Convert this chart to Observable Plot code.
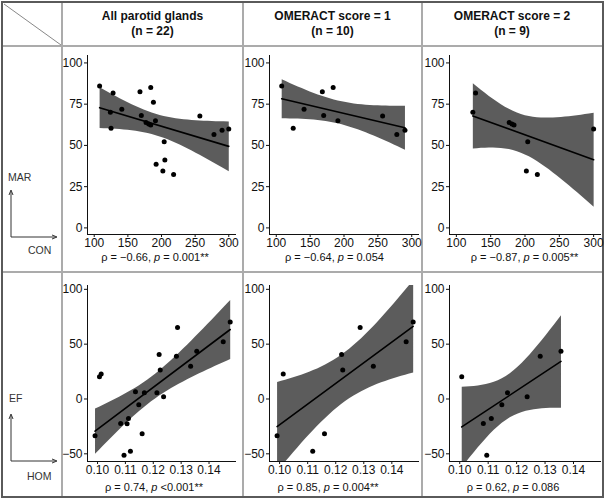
<!DOCTYPE html>
<html>
<head>
<meta charset="utf-8">
<script src="https://cdn.jsdelivr.net/npm/d3@7"></script>
<script src="https://cdn.jsdelivr.net/npm/@observablehq/plot@0.6"></script>
<style>
  html, body { margin: 0; padding: 0; background: #fff; }
  #wrap { position: relative; width: 605px; height: 499px; overflow: hidden; font-family: "Liberation Sans", Arial, sans-serif; color: #222; }
  .abs { position: absolute; }
  .hdr { font-weight: bold; font-size: 12px; line-height: 15px; text-align: center; color: #111; }
  .rho { font-size: 11px; line-height: 11px; white-space: nowrap; transform: translateX(-50%); color: #111; }
  .side { font-size: 10.5px; color: #333; }
  .vl { background: #ababab; width: 2px; }
  .hl { background: #ababab; height: 2px; }
</style>
</head>
<body>
<div id="wrap"></div>
<script>
// ---------- data ----------
const columnTitles = ["All parotid glands", "OMERACT score = 1", "OMERACT score = 2"];
const columnN = ["(n = 22)", "(n = 10)", "(n = 9)"];
const groupKeys = ["all", "1", "2"];

// top row: CON (x) vs MAR (y), OMERACT group of each gland
const conValues = [108, 128, 124, 125, 141, 168, 170, 177, 184, 184, 188, 191, 192, 202, 204, 205, 218, 257, 278, 290, 300, 181];
const marValues = [86, 81.7, 70.1, 60.4, 71.9, 82.5, 68.1, 63.9, 85.1, 62.4, 76.1, 64.9, 38.6, 34.5, 52.2, 41.2, 32.3, 67.9, 56.6, 59.2, 60.0, 63.0];
const topGroup  = ["1", "2", "2", "1", "1", "1", "1", "2", "1", "2", "0", "1", "0", "2", "2", "0", "2", "1", "1", "1", "2", "2"];

// bottom row: HOM (x) vs EF (y)
const homValues = [0.0991, 0.1007, 0.1013, 0.1083, 0.1095, 0.1106, 0.1111, 0.1118, 0.1136, 0.1148, 0.1160, 0.1168, 0.1213, 0.1221, 0.1225, 0.1237, 0.1283, 0.1287, 0.1334, 0.1356, 0.1451, 0.1476];
const efValues  = [-33.6, 20.4, 22.9, -22.3, -51.2, -22.6, -17.7, -47.6, 6.7, -5.2, -31.7, 5.8, 5.8, 40.6, 26.5, 2.1, 39.0, 65.3, 29.9, 43.6, 52.2, 70.2];
const bottomGroup = ["1", "2", "1", "2", "2", "0", "2", "1", "0", "2", "1", "2", "0", "1", "1", "2", "2", "1", "1", "2", "1", "1"];

const topLabels = [["−0.66", "0.001**"], ["−0.64", "0.054"], ["−0.87", "0.005**"]];
const bottomLabels = [["0.74", "<0.001**"], ["0.85", "0.004**"], ["0.62", "0.086"]];

const topXTicks = [100, 150, 200, 250, 300];
const topYTicks = [0, 25, 50, 75, 100];
const bottomXTicks = [0.10, 0.11, 0.12, 0.13, 0.14];
const bottomYTicks = [-50, 0, 50, 100];

// ---------- layout ----------
const wrap = document.getElementById("wrap");
function el(cls, css, html) {
  const d = document.createElement("div");
  d.className = "abs " + cls;
  Object.assign(d.style, css);
  if (html != null) d.innerHTML = html;
  wrap.appendChild(d);
  return d;
}
const cols = [{left: 62, width: 181, ml: 25, mr: 8}, {left: 243, width: 179, ml: 26, mr: 4}, {left: 422, width: 180, ml: 27, mr: 2}];
const topRow = {top: 46, height: 205, mt: 9, mb: 17, labelY: 252};
const botRow = {top: 272, height: 206, mt: 13, mb: 17, labelY: 482};
const topLabelX = [155, 334.5, 524.5];
const botLabelX = [154, 328, 513];

// grid
el("vl", {left: "61px", top: "2px", height: "495px"});
el("vl", {left: "242px", top: "2px", height: "495px"});
el("vl", {left: "421px", top: "2px", height: "495px"});
el("hl", {left: "2px", top: "45px", width: "601px"});
el("hl", {left: "2px", top: "271px", width: "601px"});
el("", {left: "1px", top: "1px", width: "603px", height: "497px", border: "2px solid #5a5a5a", boxSizing: "border-box"});

// decorations (diagonal + arrows)
const deco = document.createElementNS("http://www.w3.org/2000/svg", "svg");
deco.setAttribute("width", 605); deco.setAttribute("height", 499);
deco.style.position = "absolute"; deco.style.left = "0"; deco.style.top = "0";
deco.innerHTML = `
  <line x1="4" y1="4" x2="61" y2="45" stroke="#888" stroke-width="1"/>
  <g stroke="#333" stroke-width="1" fill="none">
    <path d="M11,237 V192 M11,237 H55"/>
    <path d="M9,195 L11,190 L13,195 M52,235 L57,237 L52,239"/>
    <path d="M11,461 V416 M11,461 H55"/>
    <path d="M9,419 L11,414 L13,419 M52,459 L57,461 L52,463"/>
  </g>`;
wrap.appendChild(deco);
el("side", {left: "8px", top: "171px"}, "MAR");
el("side", {left: "28px", top: "244px"}, "CON");
el("side", {left: "9px", top: "392px"}, "EF");
el("side", {left: "27px", top: "470px"}, "HOM");

// headers
cols.forEach((c, i) => {
  el("hdr", {left: c.left + "px", width: c.width + "px", top: "9px"}, columnTitles[i] + "<br>" + columnN[i]);
});

// ---------- panels ----------
const topData = conValues.map((x, i) => ({x, y: marValues[i], g: topGroup[i]}));
const botData = homValues.map((x, i) => ({x, y: efValues[i], g: bottomGroup[i]}));

function panel(data, c, row, xOpts, yOpts) {
  const p = Plot.plot({
    width: c.width, height: row.height,
    marginLeft: c.ml, marginRight: c.mr, marginTop: row.mt, marginBottom: row.mb,
    style: {fontFamily: "'Liberation Sans', Arial, sans-serif", fontSize: "12px", color: "#111", background: "transparent", overflow: "visible"},
    x: Object.assign({label: null, line: true, tickSize: 3, tickPadding: 1}, xOpts),
    y: Object.assign({label: null, line: true, tickSize: 3, tickPadding: 2}, yOpts),
    marks: [
      Plot.linearRegressionY(data, {x: "x", y: "y", ci: 0.95, fill: "#5c5c5c", fillOpacity: 1, stroke: "#000", strokeWidth: 1.6, clip: true}),
      Plot.dot(data, {x: "x", y: "y", r: 2.5, fill: "#000", stroke: null})
    ]
  });
  p.style.position = "absolute";
  p.style.left = c.left + "px";
  p.style.top = row.top + "px";
  wrap.appendChild(p);
}

groupKeys.forEach((g, i) => {
  const td = g === "all" ? topData : topData.filter(d => d.g === g);
  const bd = g === "all" ? botData : botData.filter(d => d.g === g);
  panel(td, cols[i], topRow,
    {domain: [90, 310], ticks: topXTicks},
    {domain: [-4, 104.5], ticks: topYTicks});
  panel(bd, cols[i], botRow,
    {domain: [0.0964, 0.1495], ticks: bottomXTicks, tickFormat: d3.format(".2f")},
    {domain: [-57, 103.5], ticks: bottomYTicks});
  el("rho", {left: topLabelX[i] + "px", top: topRow.labelY + "px"}, `ρ = ${topLabels[i][0]}, <i>p</i> = ${topLabels[i][1]}`);
  el("rho", {left: botLabelX[i] + "px", top: botRow.labelY + "px"}, `ρ = ${bottomLabels[i][0]}, <i>p</i> ${bottomLabels[i][1].startsWith("<") ? "&lt;" + bottomLabels[i][1].slice(1) : "= " + bottomLabels[i][1]}`);
});
</script>
</body>
</html>
